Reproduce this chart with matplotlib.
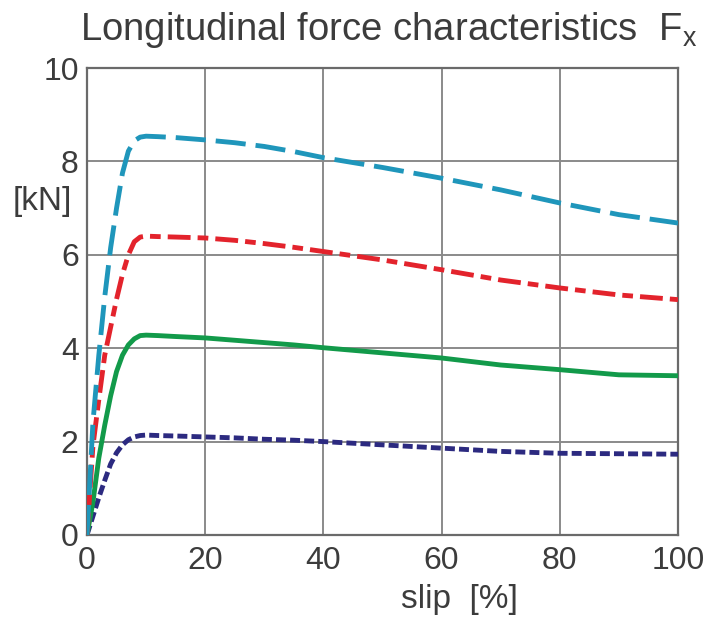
import matplotlib
matplotlib.use("Agg")
import matplotlib.pyplot as plt

plt.rcParams['font.family'] = ['Liberation Sans', 'DejaVu Sans']
plt.rcParams['mathtext.fontset'] = 'custom'
plt.rcParams['mathtext.rm'] = 'Liberation Sans'

# --- data ---
slip = [0, 1, 2, 3, 4, 5, 6, 7, 8, 9, 10, 12, 15, 20, 25, 30, 35, 40, 50, 60, 70, 80, 90, 100]
fx_cyan = [0, 2.4, 3.85, 5.1, 6.15, 7.0, 7.75, 8.22, 8.44, 8.52, 8.54, 8.53, 8.51, 8.46,
           8.40, 8.32, 8.21, 8.08, 7.87, 7.64, 7.39, 7.11, 6.86, 6.68]
fx_red = [0, 1.9, 2.9, 3.85, 4.45, 5.05, 5.58, 6.0, 6.28, 6.38, 6.40, 6.39, 6.38, 6.36,
          6.31, 6.24, 6.16, 6.07, 5.89, 5.68, 5.46, 5.29, 5.14, 5.04]
fx_green = [0, 0.7, 1.65, 2.35, 2.98, 3.5, 3.85, 4.07, 4.2, 4.27, 4.28, 4.27, 4.25, 4.22,
            4.17, 4.12, 4.07, 4.01, 3.90, 3.79, 3.64, 3.54, 3.43, 3.41]
fx_navy = [0, 0.4, 0.8, 1.17, 1.52, 1.76, 1.93, 2.04, 2.10, 2.13, 2.14, 2.13, 2.12, 2.10,
           2.08, 2.05, 2.03, 2.00, 1.93, 1.86, 1.79, 1.75, 1.74, 1.73]

x_ticks = [0, 20, 40, 60, 80, 100]
y_ticks = [0, 2, 4, 6, 8, 10]

text_col = '#3c3c3c'
fig = plt.figure(figsize=(7.16, 6.25), dpi=100)
ax = fig.add_axes([87 / 716, 1 - 535 / 625, (678 - 87) / 716, (535 - 68) / 625])

# dash lengths are in multiples of the line width
lw = 3.5
ax.plot(slip, fx_navy, color='#2c2a80', lw=lw, dashes=(2.05, 0.85), zorder=3)
ax.plot(slip, fx_green, color='#129a4a', lw=lw, zorder=3)
ax.plot(slip, fx_red, color='#e3232c', lw=lw, dashes=(4.7, 1.45, 2.2, 1.45), zorder=3)
ax.plot(slip, fx_cyan, color='#1f96bb', lw=lw, dashes=(6.2, 2.05), zorder=3)

ax.set_xlim(0, 100)
ax.set_ylim(0, 10)
ax.set_xticks(x_ticks)
ax.set_yticks(y_ticks)
ax.grid(True, color='#8a8a8a', lw=1.4)
ax.set_axisbelow(True)
for s in ax.spines.values():
    s.set_color('#6a6a6a')
    s.set_linewidth(1.6)
ax.tick_params(length=0, labelsize=23, colors=text_col, pad=8)
ax.tick_params(axis='y', pad=6)

ax.text(-7.5, 7.15, '[kN]', fontsize=24, color=text_col, ha='center', va='center')
ax.text(63, -1.38, 'slip  [%]', fontsize=24, color=text_col, ha='center', va='center')
fig.text(0.543, 0.952, r'Longitudinal force characteristics  F$_\mathregular{x}$',
         fontsize=27.5, color=text_col, ha='center', va='center')

fig.savefig('out.png', dpi=100)
